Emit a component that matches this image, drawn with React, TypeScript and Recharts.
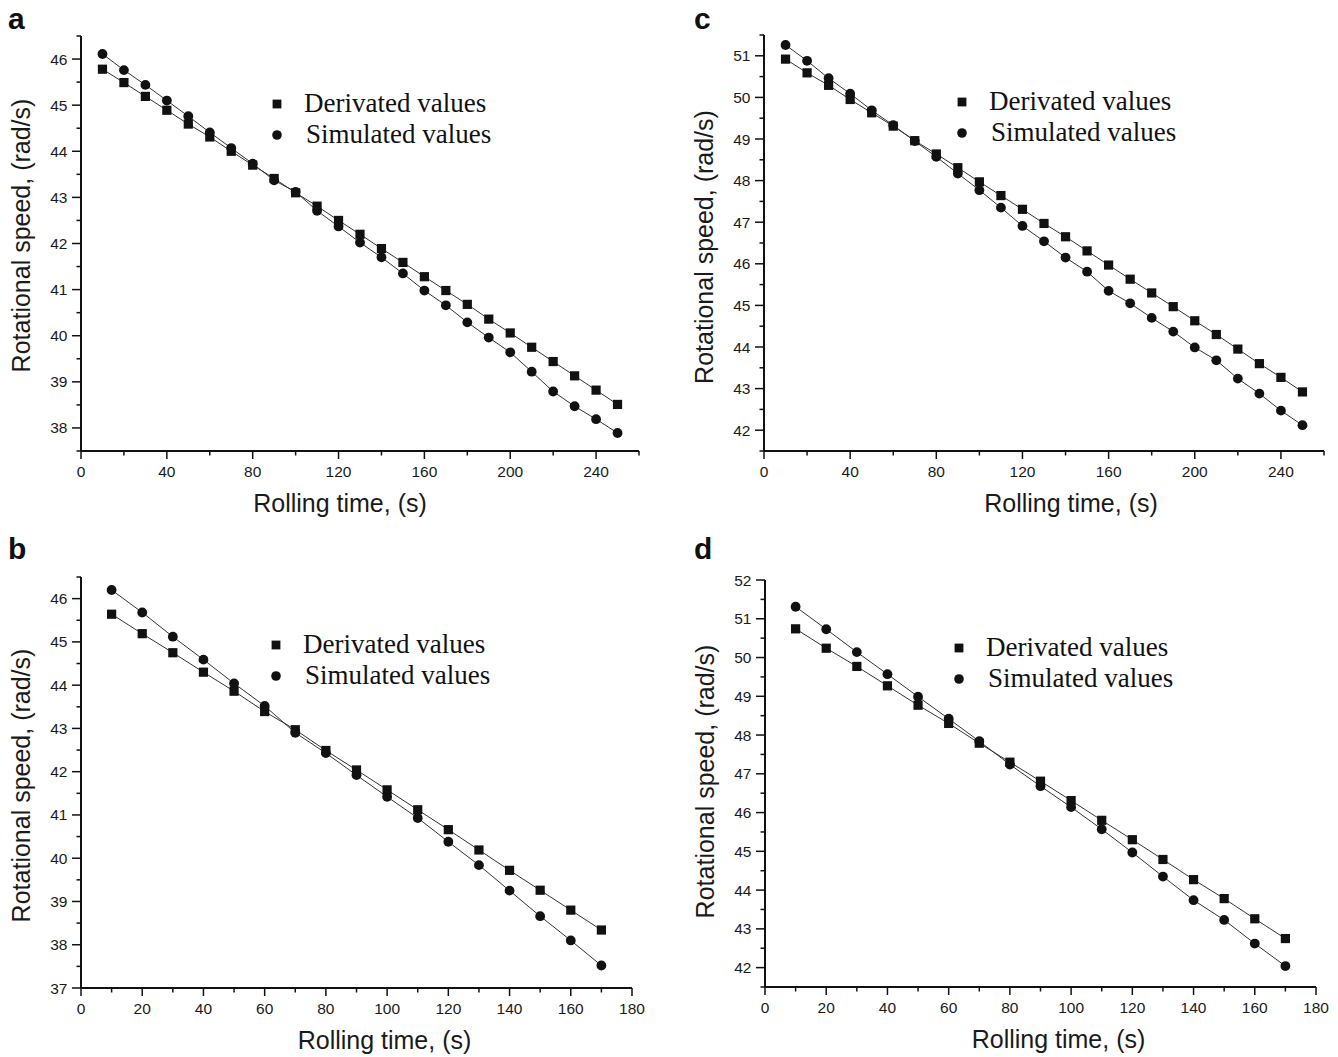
import { LineChart, Line, XAxis, YAxis } from 'recharts'

// sampling times
const timesLong = [10, 20, 30, 40, 50, 60, 70, 80, 90, 100, 110, 120, 130, 140, 150, 160, 170, 180, 190, 200, 210, 220, 230, 240, 250]
const timesShort = [10, 20, 30, 40, 50, 60, 70, 80, 90, 100, 110, 120, 130, 140, 150, 160, 170]

// panel a
const derivedA = [45.78, 45.49, 45.19, 44.89, 44.59, 44.31, 44.0, 43.7, 43.41, 43.1, 42.81, 42.5, 42.2, 41.89, 41.59, 41.28, 40.98, 40.68, 40.36, 40.06, 39.75, 39.44, 39.13, 38.82, 38.51]
const simulatedA = [46.11, 45.76, 45.44, 45.1, 44.76, 44.41, 44.07, 43.73, 43.37, 43.12, 42.71, 42.37, 42.02, 41.7, 41.35, 40.98, 40.66, 40.29, 39.96, 39.64, 39.22, 38.79, 38.47, 38.19, 37.89]

// panel b
const derivedB = [45.64, 45.19, 44.75, 44.3, 43.86, 43.39, 42.97, 42.49, 42.04, 41.58, 41.12, 40.66, 40.19, 39.72, 39.26, 38.8, 38.34]
const simulatedB = [46.2, 45.68, 45.12, 44.59, 44.04, 43.52, 42.9, 42.43, 41.92, 41.42, 40.93, 40.38, 39.84, 39.25, 38.66, 38.1, 37.52]

// panel c
const derivedC = [50.92, 50.59, 50.29, 49.95, 49.63, 49.31, 48.96, 48.64, 48.31, 47.97, 47.64, 47.31, 46.97, 46.65, 46.31, 45.97, 45.63, 45.3, 44.97, 44.63, 44.3, 43.95, 43.6, 43.27, 42.92]
const simulatedC = [51.26, 50.88, 50.46, 50.09, 49.69, 49.33, 48.95, 48.57, 48.17, 47.77, 47.35, 46.91, 46.54, 46.15, 45.81, 45.35, 45.05, 44.7, 44.37, 43.99, 43.68, 43.24, 42.88, 42.47, 42.12]

// panel d
const derivedD = [50.74, 50.24, 49.77, 49.27, 48.77, 48.3, 47.79, 47.3, 46.81, 46.31, 45.8, 45.3, 44.79, 44.27, 43.78, 43.26, 42.75]
const simulatedD = [51.31, 50.73, 50.14, 49.57, 48.99, 48.42, 47.84, 47.24, 46.68, 46.14, 45.57, 44.97, 44.35, 43.74, 43.23, 42.62, 42.04]

// ticks
const xMajorLong = [0, 40, 80, 120, 160, 200, 240]
const xMinorLong = [20, 60, 100, 140, 180, 220, 260]
const xMajorShort = [0, 20, 40, 60, 80, 100, 120, 140, 160, 180]
const xMinorShort = [10, 30, 50, 70, 90, 110, 130, 150, 170]
const yMajorA = [38, 39, 40, 41, 42, 43, 44, 45, 46]
const yMinorA = [37.5, 38.5, 39.5, 40.5, 41.5, 42.5, 43.5, 44.5, 45.5, 46.5]
const yMajorB = [37, 38, 39, 40, 41, 42, 43, 44, 45, 46]
const yMinorB = [37.5, 38.5, 39.5, 40.5, 41.5, 42.5, 43.5, 44.5, 45.5, 46.5]
const yMajorC = [42, 43, 44, 45, 46, 47, 48, 49, 50, 51]
const yMinorC = [41.5, 42.5, 43.5, 44.5, 45.5, 46.5, 47.5, 48.5, 49.5, 50.5, 51.5]
const yMajorD = [42, 43, 44, 45, 46, 47, 48, 49, 50, 51, 52]
const yMinorD = [41.5, 42.5, 43.5, 44.5, 45.5, 46.5, 47.5, 48.5, 49.5, 50.5, 51.5]

const SANS = '"Liberation Sans", Arial, sans-serif'
const SERIF = '"Liberation Serif", "Times New Roman", serif'
const INK = '#111'

function XTick({ x, y, payload, majors }: any) {
  const major = majors.includes(payload.value)
  return (
    <g>
      <line x1={x} x2={x} y1={y} y2={y + (major ? 8 : 4.5)} stroke={INK} strokeWidth={1.5} />
      {major && (
        <text x={x} y={y + 26} textAnchor="middle" fontSize={15.5} fill="#1a1a1a" fontFamily={SANS}>
          {payload.value}
        </text>
      )}
    </g>
  )
}

function YTick({ x, y, payload, majors }: any) {
  const major = majors.includes(payload.value)
  return (
    <g>
      <line x1={x} x2={x - (major ? 9 : 4.5)} y1={y} y2={y} stroke={INK} strokeWidth={1.5} />
      {major && (
        <text x={x - 13.5} y={y + 5.5} textAnchor="end" fontSize={15.5} fill="#1a1a1a" fontFamily={SANS}>
          {payload.value}
        </text>
      )}
    </g>
  )
}

function SquareDot({ cx, cy }: any) {
  return <rect x={cx - 4.6} y={cy - 4.6} width={9.2} height={9.2} fill={INK} />
}

function CircleDot({ cx, cy }: any) {
  return <circle cx={cx} cy={cy} r={4.9} fill={INK} />
}

interface PanelProps {
  letter: string
  left: number
  top: number
  width: number
  height: number
  margin: { top: number; right: number; bottom: number; left: number }
  times: number[]
  derived: number[]
  simulated: number[]
  xDomain: [number, number]
  xMajor: number[]
  xMinor: number[]
  yDomain: [number, number]
  yMajor: number[]
  yMinor: number[]
  legendLeft: number
  legendTop: number
  xTitleShift: number
  yTitleShift: number
}

function Panel(p: PanelProps) {
  const data = p.times.map((t, i) => ({ t, derived: p.derived[i], simulated: p.simulated[i] }))
  const xTicks = [...p.xMajor, ...p.xMinor].sort((a, b) => a - b)
  const yTicks = [...p.yMajor, ...p.yMinor].sort((a, b) => a - b)

  return (
    <div style={{ position: 'absolute', left: p.left, top: p.top, width: p.width, height: p.height }}>
      <LineChart width={p.width} height={p.height} data={data} margin={p.margin}>
        <XAxis
          type="number"
          dataKey="t"
          domain={p.xDomain}
          ticks={xTicks}
          interval={0}
          height={40}
          tickSize={0}
          tickMargin={0}
          tickLine={false}
          axisLine={{ stroke: INK, strokeWidth: 2 }}
          tick={(props: any) => <XTick {...props} majors={p.xMajor} />}
          label={(lp: any) => {
            const vb = lp.viewBox
            return (
              <text
                x={vb.x + vb.width / 2 + p.xTitleShift}
                y={vb.y + 61}
                textAnchor="middle"
                fontSize={25}
                fill="#1a1a1a"
                fontFamily={SANS}
              >
                Rolling time, (s)
              </text>
            )
          }}
        />
        <YAxis
          type="number"
          domain={p.yDomain}
          ticks={yTicks}
          interval={0}
          width={70}
          tickSize={0}
          tickMargin={0}
          tickLine={false}
          axisLine={{ stroke: INK, strokeWidth: 2 }}
          tick={(props: any) => <YTick {...props} majors={p.yMajor} />}
          label={(lp: any) => {
            const vb = lp.viewBox
            const x = vb.x + vb.width - 51
            const y = vb.y + vb.height / 2 + p.yTitleShift
            return (
              <text
                x={x}
                y={y}
                transform={`rotate(-90 ${x} ${y})`}
                textAnchor="middle"
                fontSize={25}
                fill="#1a1a1a"
                fontFamily={SANS}
              >
                Rotational speed, (rad/s)
              </text>
            )
          }}
        />
        <Line
          type="linear"
          dataKey="derived"
          stroke="#333"
          strokeWidth={1}
          dot={<SquareDot />}
          activeDot={false}
          isAnimationActive={false}
        />
        <Line
          type="linear"
          dataKey="simulated"
          stroke="#333"
          strokeWidth={1}
          dot={<CircleDot />}
          activeDot={false}
          isAnimationActive={false}
        />
      </LineChart>

      <div
        style={{
          position: 'absolute',
          left: p.legendLeft,
          top: p.legendTop,
          fontFamily: SERIF,
          fontSize: 27,
          color: '#111',
          whiteSpace: 'nowrap',
        }}
      >
        <div style={{ display: 'flex', alignItems: 'center', height: 31, lineHeight: '31px' }}>
          <svg width={20} height={20}>
            <rect x={5.6} y={5.6} width={8.8} height={8.8} fill={INK} />
          </svg>
          <span style={{ marginLeft: 17 }}>Derivated values</span>
        </div>
        <div style={{ display: 'flex', alignItems: 'center', height: 31, lineHeight: '31px' }}>
          <svg width={20} height={20}>
            <circle cx={10} cy={10} r={4.8} fill={INK} />
          </svg>
          <span style={{ marginLeft: 19 }}>Simulated values</span>
        </div>
      </div>

      <div
        style={{
          position: 'absolute',
          left: p.letter === 'a' || p.letter === 'b' ? 8 : 25,
          top: 4,
          fontFamily: SANS,
          fontWeight: 700,
          fontSize: 30,
          lineHeight: '30px',
          color: '#111',
        }}
      >
        {p.letter}
      </div>
    </div>
  )
}

export default function App() {
  return (
    <div style={{ position: 'absolute', left: 0, top: 0, width: 1338, height: 1057, background: '#fff' }}>
      <Panel
        letter="a"
        left={0}
        top={0}
        width={669}
        height={530}
        margin={{ top: 36, right: 30, bottom: 39, left: 11 }}
        times={timesLong}
        derived={derivedA}
        simulated={simulatedA}
        xDomain={[0, 260]}
        xMajor={xMajorLong}
        xMinor={xMinorLong}
        yDomain={[37.5, 46.5]}
        yMajor={yMajorA}
        yMinor={yMinorA}
        legendLeft={267}
        legendTop={88}
        xTitleShift={-20}
        yTitleShift={-8}
      />
      <Panel
        letter="c"
        left={669}
        top={0}
        width={669}
        height={530}
        margin={{ top: 35, right: 14, bottom: 39, left: 25 }}
        times={timesLong}
        derived={derivedC}
        simulated={simulatedC}
        xDomain={[0, 260]}
        xMajor={xMajorLong}
        xMinor={xMinorLong}
        yDomain={[41.5, 51.5]}
        yMajor={yMajorC}
        yMinor={yMinorC}
        legendLeft={283}
        legendTop={86}
        xTitleShift={27}
        yTitleShift={4}
      />
      <Panel
        letter="b"
        left={0}
        top={530}
        width={669}
        height={527}
        margin={{ top: 47, right: 37, bottom: 29, left: 11 }}
        times={timesShort}
        derived={derivedB}
        simulated={simulatedB}
        xDomain={[0, 180]}
        xMajor={xMajorShort}
        xMinor={xMinorShort}
        yDomain={[37, 46.5]}
        yMajor={yMajorB}
        yMinor={yMinorB}
        legendLeft={266}
        legendTop={99}
        xTitleShift={28}
        yTitleShift={3}
      />
      <Panel
        letter="d"
        left={669}
        top={530}
        width={669}
        height={527}
        margin={{ top: 50, right: 22, bottom: 30, left: 26 }}
        times={timesShort}
        derived={derivedD}
        simulated={simulatedD}
        xDomain={[0, 180]}
        xMajor={xMajorShort}
        xMinor={xMinorShort}
        yDomain={[41.5, 52]}
        yMajor={yMajorD}
        yMinor={yMinorD}
        legendLeft={280}
        legendTop={102}
        xTitleShift={18}
        yTitleShift={-2}
      />
    </div>
  )
}
